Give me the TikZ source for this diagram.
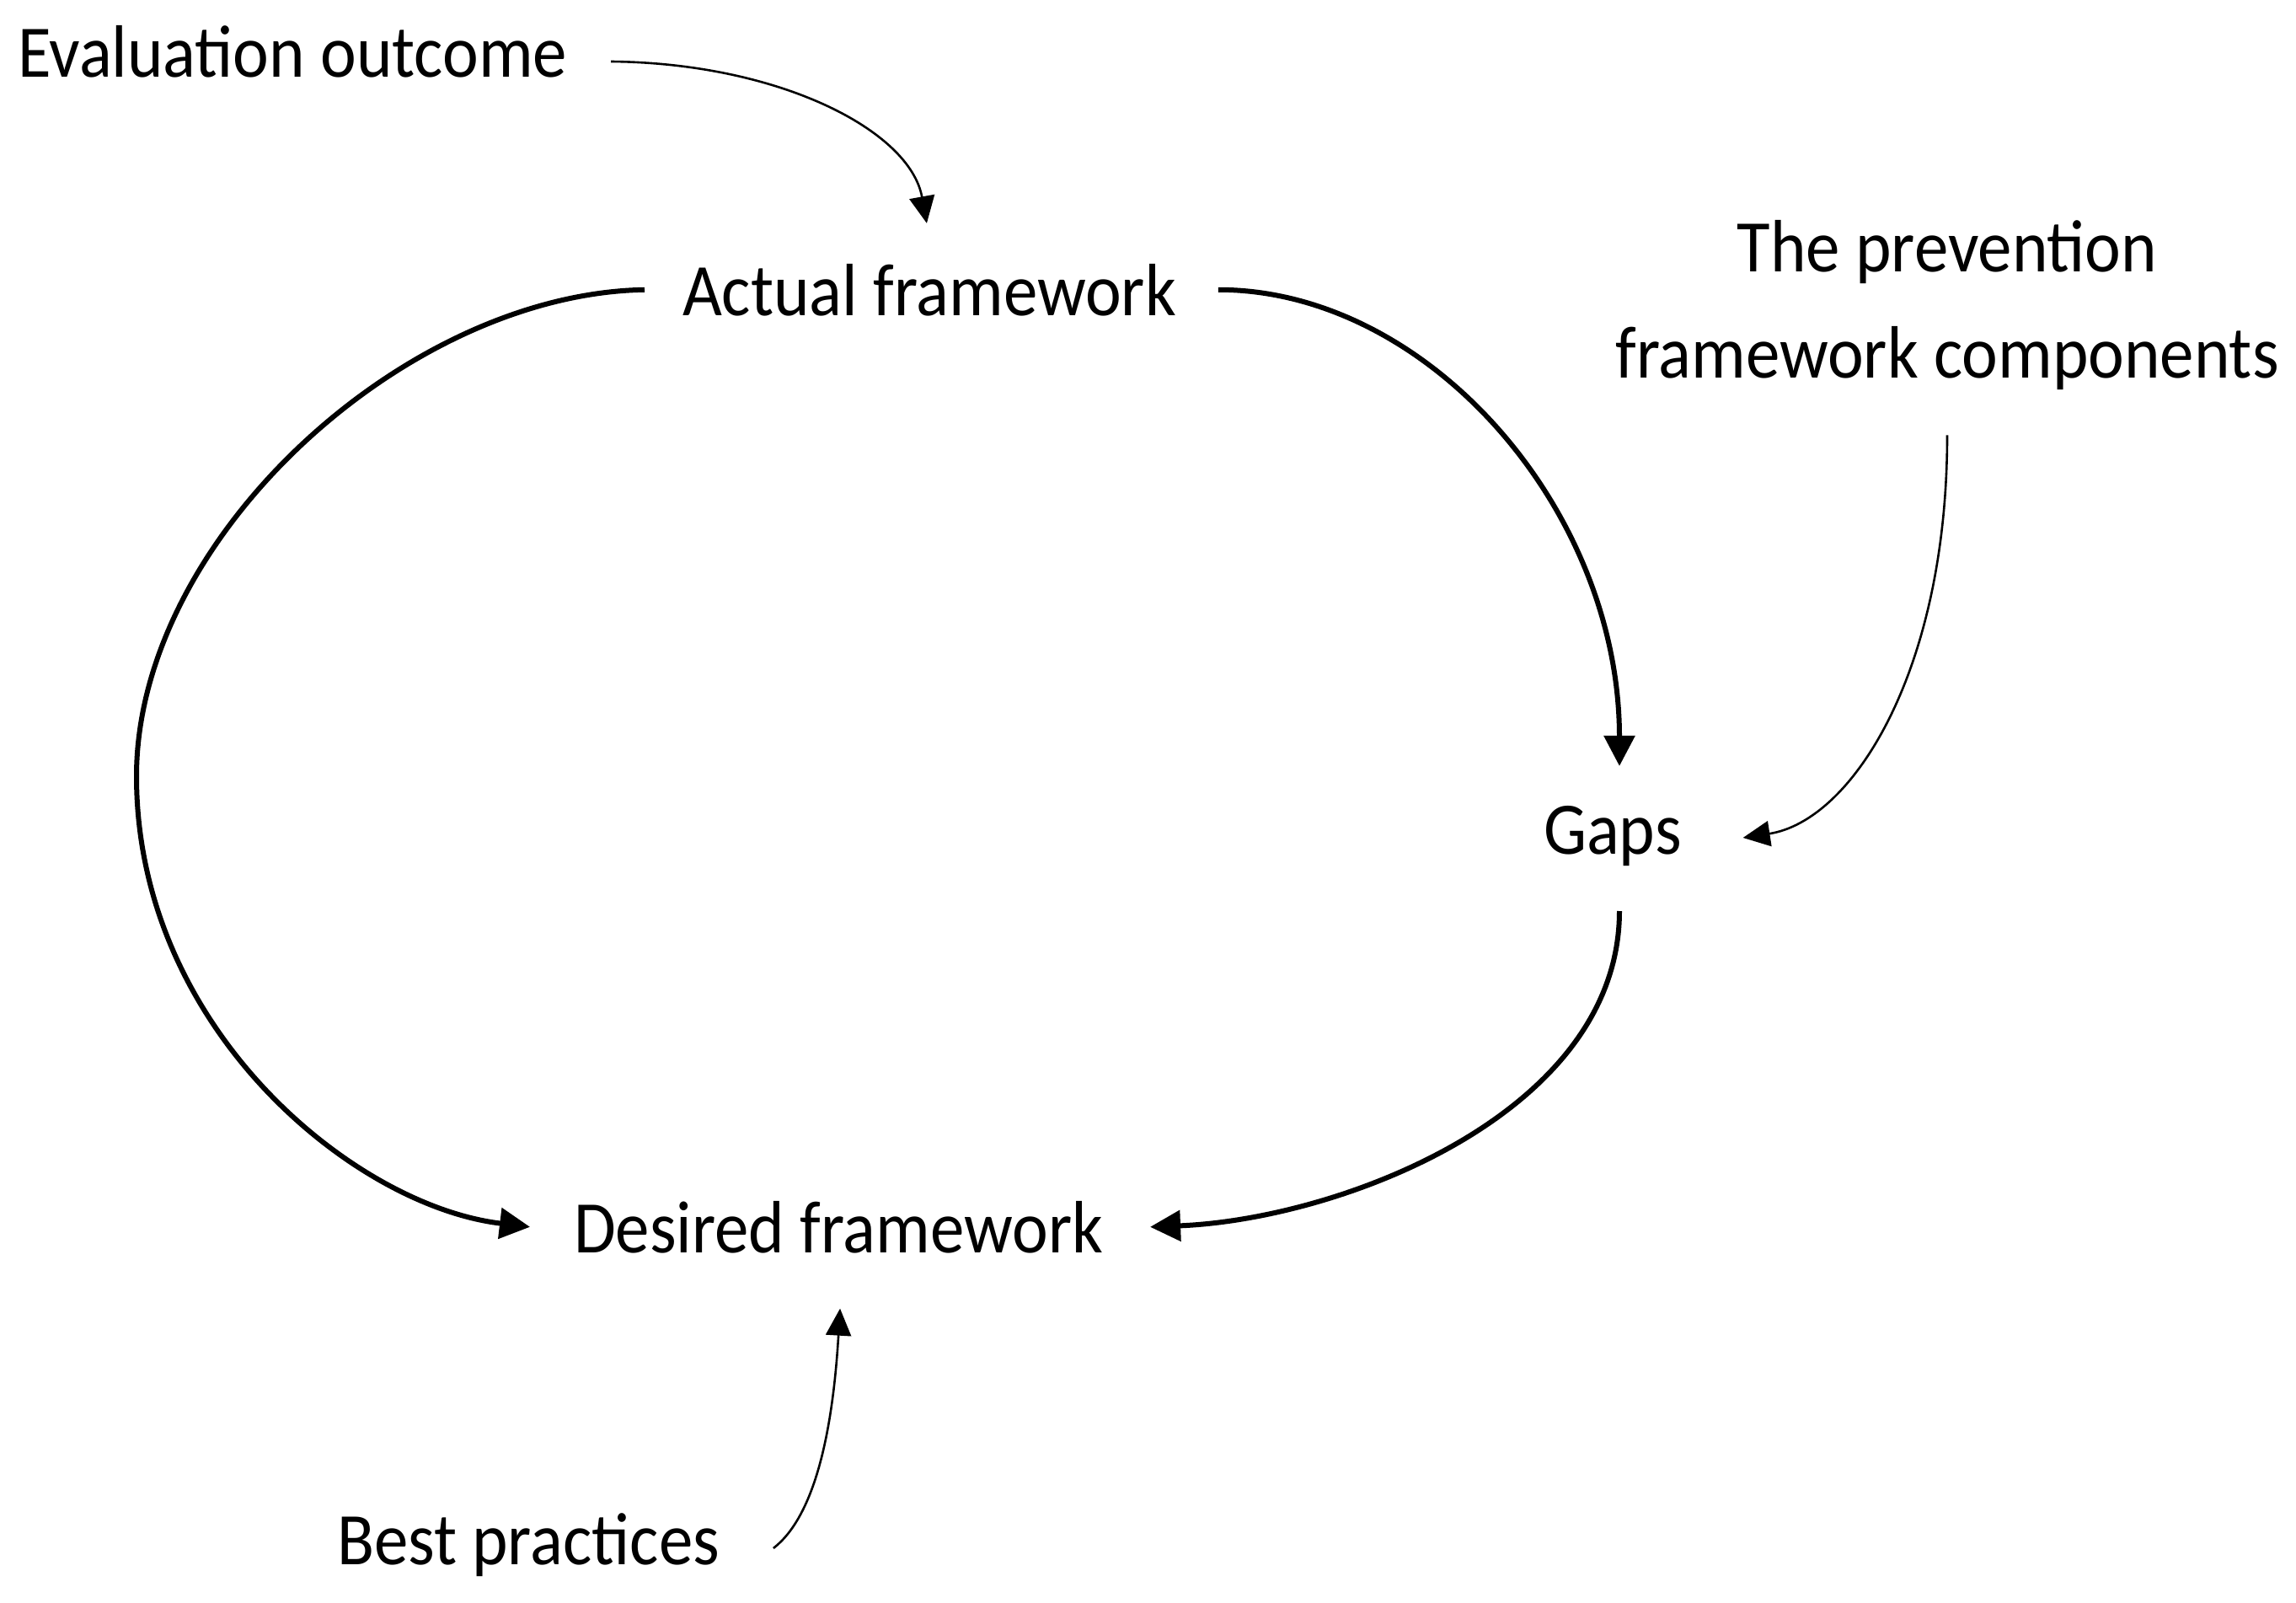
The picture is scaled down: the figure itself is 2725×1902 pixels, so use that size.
\documentclass[tikz,border=0pt]{standalone}
\usepackage{fontspec}
\setmainfont{Carlito}[FakeStretch=0.92]
\usetikzlibrary{arrows.meta}
\begin{document}
\begin{tikzpicture}[x=1pt,y=-1pt,
  lbl/.style={inner sep=0pt,outer sep=0pt,font=\fontsize{88}{126}\selectfont},
  mainarrow/.style={line width=6pt,-{Triangle[length=36pt,width=36pt]}},
  sidearrow/.style={line width=2.6pt,-{Triangle[length=32pt,width=30pt]}}]
\useasboundingbox[fill=white] (0,0) rectangle (2725,1902);
\node[lbl,anchor=base west] (eval) at (21,92) {Evaluation outcome};
\node[lbl,anchor=base west] (act) at (810,374) {Actual framework};
\node[lbl,anchor=base west] (gaps) at (1832,1013) {Gaps};
\node[lbl,anchor=north,align=center] (prev) at (2311,261) {The prevention\\framework components};
\node[lbl,anchor=base west] (des) at (681,1486) {Desired framework};
\node[lbl,anchor=base west] (best) at (400,1856) {Best practices};
% thin input arrows
\draw[sidearrow] ([xshift=52pt,yshift=19pt]eval.base east) .. controls +(200,2) and +(-20,-110) .. ([xshift=-3pt,yshift=48pt]act.north);
\draw[sidearrow] ([yshift=-54pt]prev.south) .. controls +(0,280) and +(130,-20) .. ([xshift=73pt]gaps.east |- 0,994);
\draw[sidearrow] ([xshift=64pt,yshift=19pt]best.base east) .. controls +(48,-37) and +(-9,150) .. ([xshift=2pt,yshift=-66pt]des.south);
% main cycle
\draw[mainarrow] ([xshift=-45pt]act.west) .. controls +(-285,5) and +(0,-281) .. (162,921) .. controls +(0,299) and +(-209,-25) .. ([xshift=-52pt]des.west);
\draw[mainarrow] ([xshift=50pt]act.east) .. controls +(249,0) and +(0,-304) .. ([xshift=90pt,yshift=47pt]gaps.north west);
\draw[mainarrow] ([xshift=90pt,yshift=-68pt]gaps.base west) .. controls +(0,239) and +(227,-9) .. ([xshift=56pt]des.east);
\end{tikzpicture}
\end{document}
